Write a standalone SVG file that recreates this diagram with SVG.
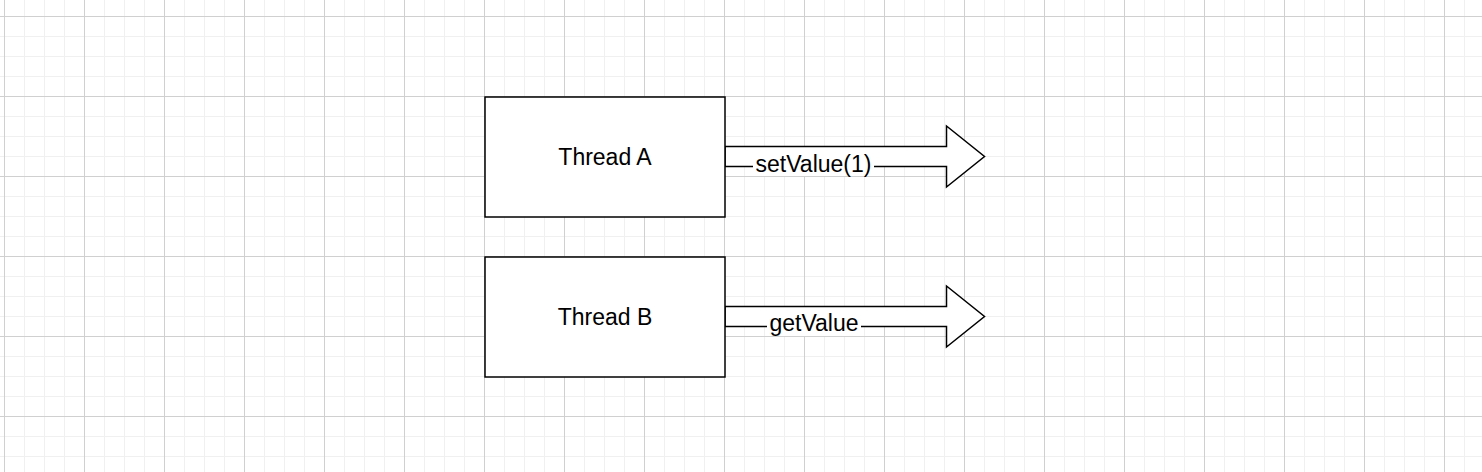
<svg xmlns="http://www.w3.org/2000/svg" width="1482" height="472" viewBox="0 0 1482 472">
<defs>
<pattern id="minor" x="4" y="16" width="20" height="20" patternUnits="userSpaceOnUse">
<path d="M0.5 0V20M0 0.5H20" stroke="#f0f0f0" stroke-width="1" fill="none"/>
</pattern>
<pattern id="major" x="4" y="16" width="80" height="80" patternUnits="userSpaceOnUse">
<path d="M0.5 0V80M0 0.5H80" stroke="#d0d0d0" stroke-width="1" fill="none"/>
</pattern>
</defs>
<style>
.node{fill:#ffffff;stroke:#000000;stroke-width:1.5}
.arrow{fill:#ffffff;stroke:#000000;stroke-width:1.5;stroke-linejoin:miter}
.t{font-family:"Liberation Sans",Arial,sans-serif;font-size:23px;fill:#000000;text-anchor:middle}
.lbg{fill:#ffffff}
</style>
<rect width="1482" height="472" fill="#ffffff"/>
<rect width="1482" height="472" fill="url(#minor)"/>
<rect width="1482" height="472" fill="url(#major)"/>
<g id="connectors">
<g id="edge-setValue">
<path class="arrow" d="M725 146.5H946.5V126L984.5 156.5L946.5 187V166.5H725Z"/>
<rect class="lbg" x="753" y="154" width="121" height="22"/>
<text class="t" x="813.5" y="171.5">setValue(1)</text>
</g>
<g id="edge-getValue">
<path class="arrow" d="M725 306.5H946.5V286L984.5 316.5L946.5 347V326.5H725Z"/>
<rect class="lbg" x="767" y="314" width="94" height="22"/>
<text class="t" x="814" y="331">getValue</text>
</g>
</g>
<g id="threadA">
<rect class="node" x="485" y="97" width="240" height="120"/>
<text class="t" x="605" y="165">Thread A</text>
</g>
<g id="threadB">
<rect class="node" x="485" y="257" width="240" height="120"/>
<text class="t" x="605" y="325">Thread B</text>
</g>
</svg>
